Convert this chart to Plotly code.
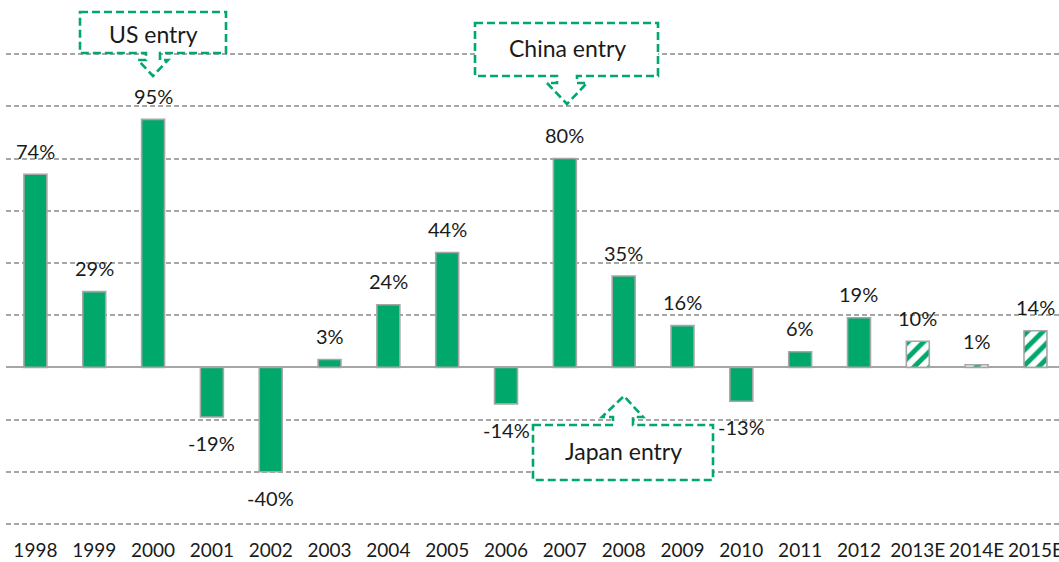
import plotly.graph_objects as go

# Annual growth by year; the last three are estimates
years = ["1998", "1999", "2000", "2001", "2002", "2003", "2004", "2005", "2006",
         "2007", "2008", "2009", "2010", "2011", "2012", "2013E", "2014E", "2015E"]
growth = [74, 29, 95, -19, -40, 3, 24, 44, -14, 80, 35, 16, -13, 6, 19, 10, 1, 14]
n_actual = 15  # years with reported figures; the rest are estimates

GREEN = "#00A86B"
GREY = "#A6A6A6"
TEXT = "#1a1a1a"
FONT = "Lato"

# Figure geometry (pixels)
W, H = 1059, 562
ML, MR, MT, MB = 6, 0, 15, 25
PW, PH = W - ML - MR, H - MT - MB

fig = go.Figure()

# Reported years: solid green bars
fig.add_trace(go.Bar(
    x=years[:n_actual],
    y=growth[:n_actual],
    width=0.39,
    marker=dict(color=GREEN, line=dict(color=GREY, width=1.6)),
    hoverinfo="x+y",
))

# Estimated years: green hatching on white
fig.add_trace(go.Bar(
    x=years[n_actual:],
    y=growth[n_actual:],
    width=0.39,
    marker=dict(
        color="white",
        line=dict(color=GREY, width=1.6),
        pattern=dict(shape="/", fgcolor=GREEN, bgcolor="white",
                     fgopacity=1, size=11, solidity=0.45, fillmode="overlay"),
    ),
    hoverinfo="x+y",
))

# Value labels above / below each bar (x as category index)
for i, v in enumerate(growth):
    fig.add_annotation(
        x=i, y=v, xref="x", yref="y",
        text=f"{v}%",
        showarrow=False,
        yanchor="middle",
        yshift=23.5 if v >= 0 else -26,
        font=dict(family=FONT, size=20, color=TEXT),
    )


def px_to_paper(px, py):
    return (px - ML) / PW, (H - MB - py) / PH


def callout_path(points):
    coords = [px_to_paper(*p) for p in points]
    return "M " + " L ".join(f"{x:.5f},{y:.5f}" for x, y in coords) + " Z"


# Callout boxes with a pointer notch (pixel outlines)
callouts = [
    ("US entry", (153, 34),
     [(80, 12), (226, 12), (226, 53), (160, 53), (160, 60), (168, 60), (153, 76),
      (138, 60), (146, 60), (146, 53), (80, 53)]),
    ("China entry", (567, 48),
     [(475, 23), (658, 23), (658, 76), (577, 76), (577, 83), (587, 83), (567, 104),
      (547, 83), (557, 83), (557, 76), (475, 76)]),
    ("Japan entry", (623, 451),
     [(533, 425), (613, 425), (613, 417), (602, 417), (624, 396), (643, 417),
      (633, 417), (633, 425), (713, 425), (713, 480), (533, 480)]),
]

for label, (tx, ty), pts in callouts:
    fig.add_shape(
        type="path",
        path=callout_path(pts),
        xref="paper", yref="paper",
        fillcolor="white",
        line=dict(color=GREEN, width=2.6, dash="8px,4px"),
        layer="above",
    )
    ax, ay = px_to_paper(tx, ty)
    fig.add_annotation(
        x=ax, y=ay, xref="paper", yref="paper",
        text=label, showarrow=False,
        xanchor="center", yanchor="middle",
        font=dict(family=FONT, size=23, color=TEXT),
    )

fig.update_layout(
    width=W, height=H,
    margin=dict(l=ML, r=MR, t=MT, b=MB, pad=0),
    paper_bgcolor="white",
    plot_bgcolor="white",
    showlegend=False,
    barmode="overlay",
    font=dict(family=FONT, size=19, color=TEXT),
    xaxis=dict(
        type="category",
        categoryorder="array",
        categoryarray=years,
        range=[-0.5, 17.4],
        showgrid=False,
        showline=False,
        ticks="",
        tickfont=dict(family=FONT, size=19, color=TEXT),
        ticklabelstandoff=0,
        automargin=False,
        fixedrange=True,
    ),
    yaxis=dict(
        range=[-65, 135],
        tickvals=[-60, -40, -20, 20, 40, 60, 80, 100, 120],
        showticklabels=False,
        showgrid=True,
        gridcolor=GREY,
        gridwidth=1.6,
        griddash="5px,3px",
        zeroline=True,
        zerolinecolor=GREY,
        zerolinewidth=2,
        showline=False,
        ticks="",
        automargin=False,
        fixedrange=True,
    ),
)

fig.write_html("out.html")
